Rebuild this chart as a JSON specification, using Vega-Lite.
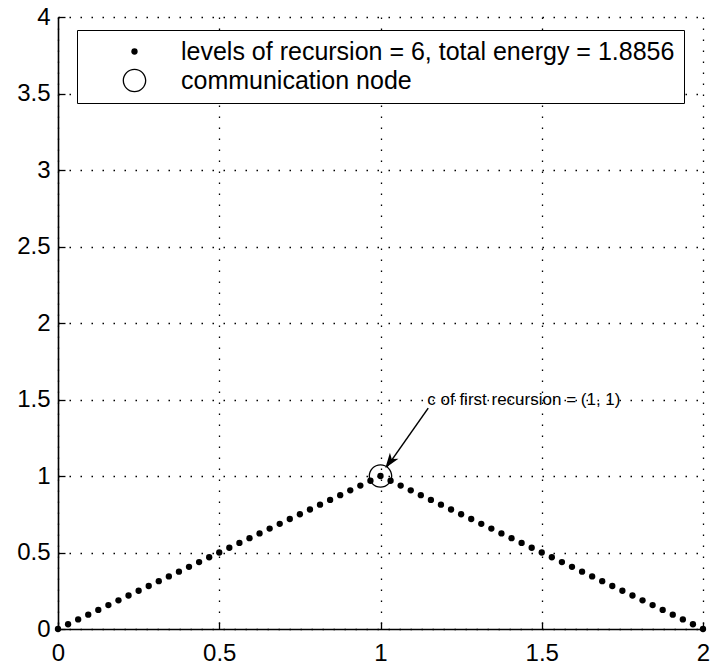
{
  "$schema": "https://vega.github.io/schema/vega-lite/v6.json",
  "width": 645,
  "height": 612,
  "autosize": "none",
  "padding": {"left": 58, "top": 17, "right": 11, "bottom": 39},
  "background": "white",
  "config": {
    "view": {"stroke": null},
    "font": "Liberation Sans",
    "axis": {
      "domainColor": "black",
      "domainWidth": 1.6,
      "tickColor": "black",
      "tickWidth": 1.3,
      "tickSize": -7,
      "labelColor": "black",
      "labelFont": "Liberation Sans",
      "labelFontSize": 24,
      "labelFlush": false,
      "labelOverlap": false,
      "grid": true,
      "gridColor": "black",
      "gridOpacity": 1,
      "gridWidth": 1.3,
      "gridDash": [1.5, 9.5],
      "title": null
    }
  },
  "layer": [
    {
      "data": {"values": [
        {"x": 0, "y": 0, "series": "levels of recursion = 6, total energy = 1.8856"},
        {"x": 0.03125, "y": 0.03125, "series": "levels of recursion = 6, total energy = 1.8856"},
        {"x": 0.0625, "y": 0.0625, "series": "levels of recursion = 6, total energy = 1.8856"},
        {"x": 0.09375, "y": 0.09375, "series": "levels of recursion = 6, total energy = 1.8856"},
        {"x": 0.125, "y": 0.125, "series": "levels of recursion = 6, total energy = 1.8856"},
        {"x": 0.15625, "y": 0.15625, "series": "levels of recursion = 6, total energy = 1.8856"},
        {"x": 0.1875, "y": 0.1875, "series": "levels of recursion = 6, total energy = 1.8856"},
        {"x": 0.21875, "y": 0.21875, "series": "levels of recursion = 6, total energy = 1.8856"},
        {"x": 0.25, "y": 0.25, "series": "levels of recursion = 6, total energy = 1.8856"},
        {"x": 0.28125, "y": 0.28125, "series": "levels of recursion = 6, total energy = 1.8856"},
        {"x": 0.3125, "y": 0.3125, "series": "levels of recursion = 6, total energy = 1.8856"},
        {"x": 0.34375, "y": 0.34375, "series": "levels of recursion = 6, total energy = 1.8856"},
        {"x": 0.375, "y": 0.375, "series": "levels of recursion = 6, total energy = 1.8856"},
        {"x": 0.40625, "y": 0.40625, "series": "levels of recursion = 6, total energy = 1.8856"},
        {"x": 0.4375, "y": 0.4375, "series": "levels of recursion = 6, total energy = 1.8856"},
        {"x": 0.46875, "y": 0.46875, "series": "levels of recursion = 6, total energy = 1.8856"},
        {"x": 0.5, "y": 0.5, "series": "levels of recursion = 6, total energy = 1.8856"},
        {"x": 0.53125, "y": 0.53125, "series": "levels of recursion = 6, total energy = 1.8856"},
        {"x": 0.5625, "y": 0.5625, "series": "levels of recursion = 6, total energy = 1.8856"},
        {"x": 0.59375, "y": 0.59375, "series": "levels of recursion = 6, total energy = 1.8856"},
        {"x": 0.625, "y": 0.625, "series": "levels of recursion = 6, total energy = 1.8856"},
        {"x": 0.65625, "y": 0.65625, "series": "levels of recursion = 6, total energy = 1.8856"},
        {"x": 0.6875, "y": 0.6875, "series": "levels of recursion = 6, total energy = 1.8856"},
        {"x": 0.71875, "y": 0.71875, "series": "levels of recursion = 6, total energy = 1.8856"},
        {"x": 0.75, "y": 0.75, "series": "levels of recursion = 6, total energy = 1.8856"},
        {"x": 0.78125, "y": 0.78125, "series": "levels of recursion = 6, total energy = 1.8856"},
        {"x": 0.8125, "y": 0.8125, "series": "levels of recursion = 6, total energy = 1.8856"},
        {"x": 0.84375, "y": 0.84375, "series": "levels of recursion = 6, total energy = 1.8856"},
        {"x": 0.875, "y": 0.875, "series": "levels of recursion = 6, total energy = 1.8856"},
        {"x": 0.90625, "y": 0.90625, "series": "levels of recursion = 6, total energy = 1.8856"},
        {"x": 0.9375, "y": 0.9375, "series": "levels of recursion = 6, total energy = 1.8856"},
        {"x": 0.96875, "y": 0.96875, "series": "levels of recursion = 6, total energy = 1.8856"},
        {"x": 1, "y": 1, "series": "levels of recursion = 6, total energy = 1.8856"},
        {"x": 1.03125, "y": 0.96875, "series": "levels of recursion = 6, total energy = 1.8856"},
        {"x": 1.0625, "y": 0.9375, "series": "levels of recursion = 6, total energy = 1.8856"},
        {"x": 1.09375, "y": 0.90625, "series": "levels of recursion = 6, total energy = 1.8856"},
        {"x": 1.125, "y": 0.875, "series": "levels of recursion = 6, total energy = 1.8856"},
        {"x": 1.15625, "y": 0.84375, "series": "levels of recursion = 6, total energy = 1.8856"},
        {"x": 1.1875, "y": 0.8125, "series": "levels of recursion = 6, total energy = 1.8856"},
        {"x": 1.21875, "y": 0.78125, "series": "levels of recursion = 6, total energy = 1.8856"},
        {"x": 1.25, "y": 0.75, "series": "levels of recursion = 6, total energy = 1.8856"},
        {"x": 1.28125, "y": 0.71875, "series": "levels of recursion = 6, total energy = 1.8856"},
        {"x": 1.3125, "y": 0.6875, "series": "levels of recursion = 6, total energy = 1.8856"},
        {"x": 1.34375, "y": 0.65625, "series": "levels of recursion = 6, total energy = 1.8856"},
        {"x": 1.375, "y": 0.625, "series": "levels of recursion = 6, total energy = 1.8856"},
        {"x": 1.40625, "y": 0.59375, "series": "levels of recursion = 6, total energy = 1.8856"},
        {"x": 1.4375, "y": 0.5625, "series": "levels of recursion = 6, total energy = 1.8856"},
        {"x": 1.46875, "y": 0.53125, "series": "levels of recursion = 6, total energy = 1.8856"},
        {"x": 1.5, "y": 0.5, "series": "levels of recursion = 6, total energy = 1.8856"},
        {"x": 1.53125, "y": 0.46875, "series": "levels of recursion = 6, total energy = 1.8856"},
        {"x": 1.5625, "y": 0.4375, "series": "levels of recursion = 6, total energy = 1.8856"},
        {"x": 1.59375, "y": 0.40625, "series": "levels of recursion = 6, total energy = 1.8856"},
        {"x": 1.625, "y": 0.375, "series": "levels of recursion = 6, total energy = 1.8856"},
        {"x": 1.65625, "y": 0.34375, "series": "levels of recursion = 6, total energy = 1.8856"},
        {"x": 1.6875, "y": 0.3125, "series": "levels of recursion = 6, total energy = 1.8856"},
        {"x": 1.71875, "y": 0.28125, "series": "levels of recursion = 6, total energy = 1.8856"},
        {"x": 1.75, "y": 0.25, "series": "levels of recursion = 6, total energy = 1.8856"},
        {"x": 1.78125, "y": 0.21875, "series": "levels of recursion = 6, total energy = 1.8856"},
        {"x": 1.8125, "y": 0.1875, "series": "levels of recursion = 6, total energy = 1.8856"},
        {"x": 1.84375, "y": 0.15625, "series": "levels of recursion = 6, total energy = 1.8856"},
        {"x": 1.875, "y": 0.125, "series": "levels of recursion = 6, total energy = 1.8856"},
        {"x": 1.90625, "y": 0.09375, "series": "levels of recursion = 6, total energy = 1.8856"},
        {"x": 1.9375, "y": 0.0625, "series": "levels of recursion = 6, total energy = 1.8856"},
        {"x": 1.96875, "y": 0.03125, "series": "levels of recursion = 6, total energy = 1.8856"},
        {"x": 2, "y": 0, "series": "levels of recursion = 6, total energy = 1.8856"},
        {"x": 1, "y": 1, "series": "communication node"}
      ]},
      "mark": {"type": "point", "filled": true, "color": "black", "opacity": 1, "strokeWidth": 0, "clip": false},
      "encoding": {
        "x": {"field": "x", "type": "quantitative",
              "scale": {"domain": [0, 2], "nice": false, "zero": false},
              "axis": {"values": [0, 0.5, 1, 1.5, 2], "format": "~g", "labelPadding": 19}},
        "y": {"field": "y", "type": "quantitative",
              "scale": {"domain": [0, 4], "nice": false, "zero": false},
              "axis": {"values": [0, 0.5, 1, 1.5, 2, 2.5, 3, 3.5, 4], "format": "~g", "labelPadding": 15}},
        "shape": {"field": "series", "type": "nominal",
                 "scale": {"domain": ["levels of recursion = 6, total energy = 1.8856", "communication node"],
                           "range": ["circle", "M1,0A1,1,0,1,1,-1,0A1,1,0,1,1,1,0ZM0.89,0A0.89,0.89,0,1,0,-0.89,0A0.89,0.89,0,1,0,0.89,0Z"]},
                 "legend": {
                   "title": null, "orient": "none", "legendX": 19, "legendY": 13,
                   "strokeColor": "black", "fillColor": "white", "padding": 9,
                   "labelFont": "Liberation Sans", "labelFontSize": 25, "labelColor": "black", "labelLimit": 0,
                   "symbolOffset": 36, "labelOffset": 34, "rowPadding": 3,
                   "symbolFillColor": "black", "symbolStrokeWidth": 0
                 }},
        "size": {"field": "series", "type": "nominal",
                 "scale": {"domain": ["levels of recursion = 6, total energy = 1.8856", "communication node"], "range": [40, 560]},
                 "legend": {
                   "title": null, "orient": "none", "legendX": 19, "legendY": 13,
                   "strokeColor": "black", "fillColor": "white", "padding": 9,
                   "labelFont": "Liberation Sans", "labelFontSize": 25, "labelColor": "black", "labelLimit": 0,
                   "symbolOffset": 36, "labelOffset": 34, "rowPadding": 3,
                   "symbolFillColor": "black", "symbolStrokeWidth": 0
                 }}
      }
    },
    {
      "data": {"values": [{"x": 1.148, "y": 1.444, "x2": 1.02, "y2": 1.06}]},
      "mark": {"type": "rule", "color": "black", "strokeWidth": 1.5},
      "encoding": {
        "x": {"field": "x", "type": "quantitative"},
        "y": {"field": "y", "type": "quantitative"},
        "x2": {"field": "x2"},
        "y2": {"field": "y2"}
      }
    },
    {
      "data": {"values": [{"x": 1.015, "y": 1.052}]},
      "mark": {"type": "point", "filled": true, "color": "black", "opacity": 1,
               "shape": "M0,0L0.5,1.45L0,1.05L-0.5,1.45Z", "size": 440, "angle": 215.6},
      "encoding": {
        "x": {"field": "x", "type": "quantitative"},
        "y": {"field": "y", "type": "quantitative"}
      }
    },
    {
      "data": {"values": [{"x": 1.145, "y": 1.5, "label": "c of first recursion = (1, 1)"}]},
      "mark": {"type": "text", "align": "left", "baseline": "middle", "font": "Liberation Sans", "fontSize": 17, "color": "black"},
      "encoding": {
        "x": {"field": "x", "type": "quantitative"},
        "y": {"field": "y", "type": "quantitative"},
        "text": {"field": "label"}
      }
    }
  ]
}
